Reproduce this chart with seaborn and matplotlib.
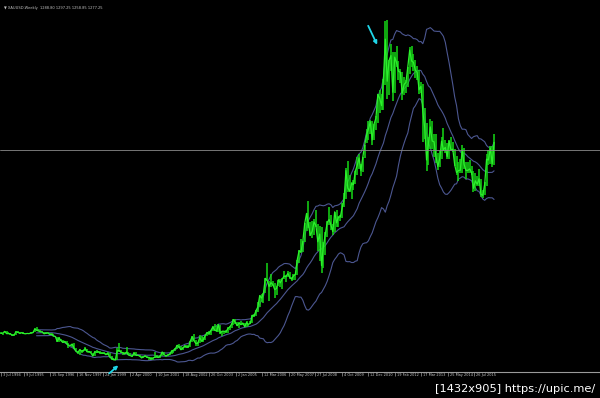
import numpy as np
import pandas as pd
import matplotlib
matplotlib.use("Agg")
import matplotlib.pyplot as plt
import seaborn as sns
from matplotlib.transforms import offset_copy, ScaledTranslation

# ---------------- data (monthly bars, Jul 1994 .. Jun 2016) ----------------
symbol_header = "\u25bc XAUUSD,Weekly  1288.80 1297.25 1258.85 1277.25"

price_close = [
    384, 386, 394, 383, 383, 383,
    375, 376, 392, 389, 385, 387, 384, 382, 384, 383, 387, 387,
    405, 400, 396, 392, 391, 382, 385, 386, 379, 379, 371, 369,
    345, 363, 348, 340, 345, 334, 326, 325, 332, 311, 296, 290,
    304, 297, 301, 310, 293, 296, 288, 273, 294, 292, 294, 288,
    287, 287, 280, 286, 268, 261, 255, 254, 299, 300, 292, 290,
    283, 293, 278, 275, 272, 288, 276, 277, 273, 264, 269, 273,
    266, 267, 258, 264, 267, 270, 266, 273, 293, 279, 275, 278,
    282, 297, 302, 309, 326, 318, 304, 312, 323, 317, 318, 347,
    368, 347, 334, 336, 364, 346, 354, 375, 388, 384, 398, 416,
    400, 396, 427, 386, 395, 395, 391, 408, 415, 429, 452, 438,
    422, 435, 427, 435, 417, 437, 429, 433, 473, 470, 495, 513,
    569, 557, 582, 654, 643, 614, 633, 624, 599, 604, 647, 632,
    650, 665, 662, 678, 659, 650, 666, 673, 743, 789, 783, 834,
    923, 972, 916, 865, 885, 930, 912, 833, 871, 716, 814, 869,
    927, 942, 916, 883, 980, 926, 954, 955, 1001, 1040, 1182, 1096,
    1081, 1119, 1113, 1180, 1207, 1244, 1181, 1248, 1307, 1357, 1386, 1421,
    1332, 1410, 1439, 1556, 1536, 1500, 1628, 1826, 1620, 1722, 1746, 1566,
    1738, 1711, 1669, 1664, 1561, 1604, 1614, 1691, 1773, 1719, 1713, 1675,
    1663, 1578, 1595, 1472, 1393, 1234, 1313, 1396, 1327, 1323, 1250, 1202,
    1240, 1326, 1284, 1296, 1250, 1327, 1282, 1287, 1210, 1172, 1182, 1184,
    1283, 1213, 1183, 1183, 1190, 1172, 1095, 1132, 1115, 1142, 1065, 1061,
    1116, 1238, 1234, 1292, 1215, 1320,
]
price_high = [
    390, 388, 397, 396, 389, 386,
    380, 379, 396, 396, 392, 392, 390, 387, 386, 387, 389, 389,
    410, 416, 404, 400, 395, 392, 390, 393, 388, 384, 383, 372,
    367, 366, 359, 354, 349, 346, 338, 329, 334, 335, 312, 299,
    309, 305, 303, 318, 309, 299, 298, 286, 299, 301, 300, 297,
    294, 291, 289, 291, 289, 272, 264, 259, 312, 338, 301, 293,
    292, 316, 295, 286, 280, 294, 291, 279, 277, 275, 271, 276,
    274, 268, 268, 266, 293, 277, 272, 278, 295, 293, 280, 283,
    287, 303, 304, 311, 328, 332, 320, 316, 327, 325, 324, 349,
    373, 382, 353, 341, 377, 371, 367, 378, 391, 396, 402, 418,
    428, 420, 429, 427, 398, 398, 403, 416, 419, 433, 456, 457,
    442, 442, 446, 436, 437, 443, 431, 446, 474, 478, 498, 538,
    574, 578, 584, 655, 730, 641, 676, 641, 629, 614, 648, 649,
    655, 690, 671, 692, 683, 663, 675, 675, 744, 795, 845, 838,
    927, 975, 1033, 932, 933, 944, 988, 919, 911, 904, 830, 881,
    934, 1006, 962, 920, 981, 990, 960, 966, 1024, 1070, 1195, 1227,
    1162, 1127, 1135, 1179, 1249, 1265, 1212, 1251, 1308, 1388, 1425, 1431,
    1424, 1411, 1448, 1557, 1578, 1556, 1632, 1913, 1921, 1725, 1804, 1764,
    1764, 1792, 1718, 1679, 1666, 1640, 1628, 1692, 1790, 1795, 1755, 1723,
    1695, 1675, 1617, 1605, 1488, 1416, 1347, 1434, 1424, 1361, 1362, 1267,
    1280, 1345, 1392, 1331, 1315, 1332, 1345, 1324, 1287, 1255, 1223, 1238,
    1307, 1295, 1223, 1224, 1232, 1205, 1178, 1170, 1157, 1191, 1142, 1088,
    1128, 1263, 1283, 1304, 1304, 1362,
]
price_low = [
    382, 375, 384, 382, 380, 376,
    370, 371, 374, 386, 382, 384, 382, 380, 382, 381, 382, 384,
    389, 397, 394, 390, 389, 380, 380, 384, 379, 376, 370, 366,
    344, 343, 346, 336, 339, 334, 315, 320, 318, 307, 296, 281,
    278, 290, 291, 298, 292, 286, 287, 272, 274, 287, 290, 285,
    284, 285, 277, 280, 267, 256, 253, 252, 255, 291, 289, 279,
    282, 283, 277, 272, 270, 273, 276, 272, 270, 263, 263, 268,
    263, 255, 255, 255, 264, 265, 265, 264, 271, 276, 270, 272,
    276, 282, 290, 298, 307, 313, 301, 302, 312, 311, 315, 316,
    342, 347, 320, 322, 337, 342, 341, 352, 371, 376, 377, 398,
    397, 391, 389, 383, 372, 383, 386, 388, 399, 409, 425, 431,
    418, 411, 425, 423, 414, 415, 418, 431, 433, 463, 467, 490,
    512, 540, 535, 580, 640, 543, 612, 615, 560, 570, 614, 611,
    603, 650, 636, 662, 653, 641, 648, 648, 668, 728, 776, 783,
    834, 885, 902, 860, 851, 864, 905, 786, 738, 681, 705, 770,
    857, 916, 890, 866, 883, 908, 905, 935, 950, 1003, 1044, 1075,
    1075, 1044, 1088, 1116, 1160, 1190, 1155, 1175, 1243, 1316, 1331, 1360,
    1309, 1330, 1381, 1417, 1462, 1478, 1478, 1600, 1532, 1554, 1669, 1523,
    1564, 1692, 1627, 1612, 1527, 1554, 1564, 1591, 1656, 1690, 1672, 1636,
    1626, 1555, 1562, 1321, 1339, 1180, 1208, 1286, 1290, 1251, 1221, 1187,
    1200, 1240, 1277, 1268, 1240, 1241, 1282, 1273, 1206, 1161, 1131, 1170,
    1168, 1190, 1142, 1170, 1170, 1162, 1077, 1080, 1105, 1107, 1052, 1046,
    1061, 1107, 1208, 1212, 1200, 1208,
]
bid_price = 1283
bb_period = 20
bb_deviation = 2

tick_labels = ["3 Jul 1994", "9 Jul 1995", "15 Sep 1996", "16 Nov 1997", "24 Jan 1999",
               "2 Apr 2000", "10 Jun 2001", "18 Aug 2002", "26 Oct 2003", "2 Jan 2005",
               "12 Mar 2006", "20 May 2007", "27 Jul 2008", "4 Oct 2009", "12 Dec 2010",
               "19 Feb 2012", "17 Mar 2013", "25 May 2014", "26 Jul 2015"]
watermark = "[1432x905] https://upic.me/"

# ---------------- frame ----------------
df = pd.DataFrame({"bar": np.arange(len(price_close)),
                   "close": price_close, "high": price_high, "low": price_low})
roll = df["close"].rolling(bb_period)
df["mid"] = roll.mean()
df["upper"] = df["mid"] + bb_deviation * roll.std(ddof=0)
df["lower"] = df["mid"] - bb_deviation * roll.std(ddof=0)

sns.set_theme(style="dark")
plt.rcParams["font.family"] = ["DejaVu Sans"]

fig = plt.figure(figsize=(6, 3.98), dpi=100, facecolor="black")
ax = fig.add_axes([0, 26 / 398, 1, 372 / 398])
ax.set_facecolor("black")

band_col = "#4c5791"
for col in ["upper", "mid", "lower"]:
    sns.lineplot(data=df, x="bar", y=col, ax=ax, color=band_col, lw=0.8, estimator=None)

ax.vlines(df["bar"], df["low"], df["high"], color="#16d916", lw=1.1)
sns.lineplot(data=df, x="bar", y="close", ax=ax, color="#2cf02c", lw=0.9, estimator=None)

ax.axhline(bid_price, color="#8a8a8a", lw=0.6)

px_per_bar = 1.875
ax.set_xlim(-0.5, -0.5 + 600 / px_per_bar)
ax.set_ylim(195, 2018)

# arrows pointing at the extreme bars
pk = int(np.argmax(df["high"]))
lo = int(np.argmin(df["low"]))
arrow_kw = dict(arrowstyle="-|>", color="#1fd6e8", lw=1.3, mutation_scale=5, shrinkA=0, shrinkB=0)
ax.annotate("", xy=(df["bar"][pk], df["high"][pk]),
            xycoords=offset_copy(ax.transData, fig=fig, x=-10, y=-25, units="dots"),
            xytext=(-9, 19), textcoords="offset pixels", arrowprops=arrow_kw)
ax.annotate("", xy=(df["bar"][lo], df["low"][lo]),
            xycoords=offset_copy(ax.transData, fig=fig, x=3, y=-5, units="dots"),
            xytext=(-9, -8), textcoords="offset pixels", arrowprops=arrow_kw)

# axes styling
for s in ["top", "left", "right"]:
    ax.spines[s].set_visible(False)
ax.spines["bottom"].set_visible(True)
ax.spines["bottom"].set_color("#9a9a9a")
ax.spines["bottom"].set_linewidth(0.8)
ax.set_yticks([])
ax.set_xlabel("")
ax.set_ylabel("")
ax.grid(False)

first_gap = 12.3
tick_step = 14.13
tick_pos = [0] + [first_gap + tick_step * k for k in range(len(tick_labels) - 1)]
ax.set_xticks(tick_pos)
ax.set_xticklabels(tick_labels, fontsize=2.5, color="#c8c8c8")
ax.tick_params(axis="x", direction="out", length=3, width=0.5, color="#9a9a9a",
               pad=-2.0, bottom=True)
shift = ScaledTranslation(2 / 100, 0, fig.dpi_scale_trans)
for lab in ax.get_xticklabels():
    lab.set_horizontalalignment("left")
    lab.set_transform(lab.get_transform() + shift)

fig.text(0.006, 0.985, symbol_header, fontsize=2.6, color="#c0c0c0", va="top", ha="left")
fig.text(0.992, 6 / 398, watermark, fontsize=8.2, color="white", ha="right", va="baseline")

fig.savefig("out.png", dpi=100, facecolor="black")
